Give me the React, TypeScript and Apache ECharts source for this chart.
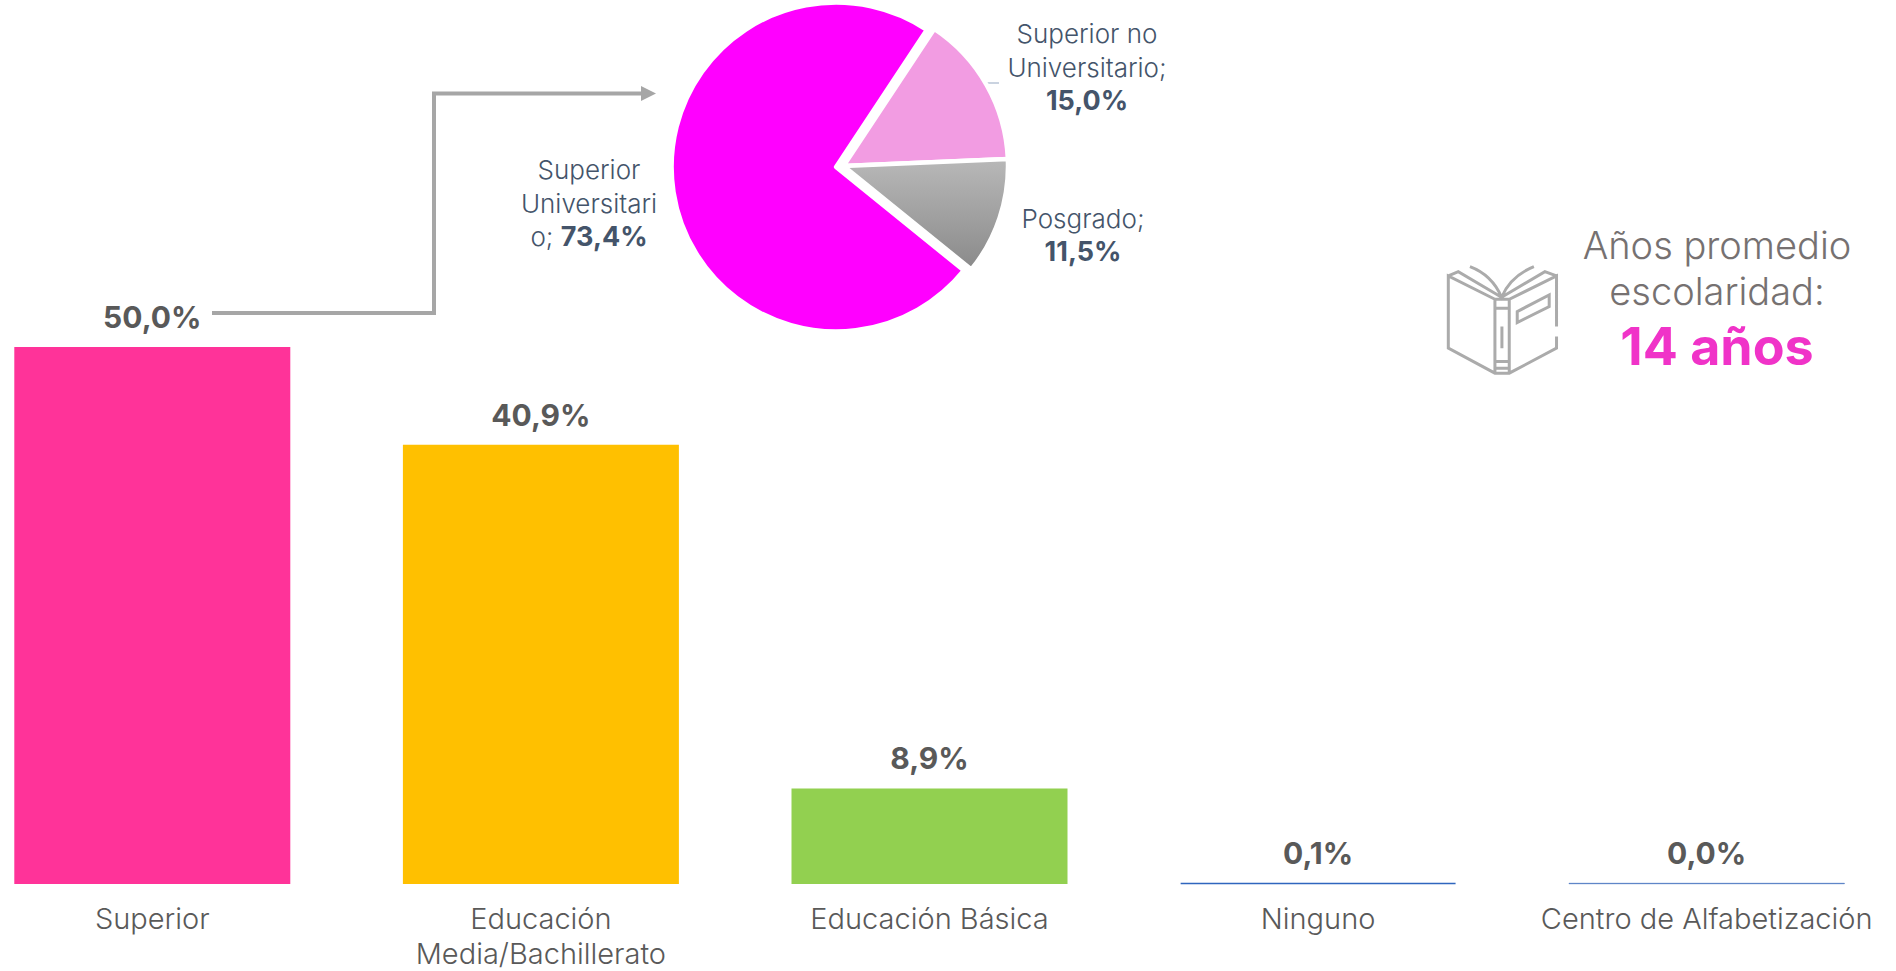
import React, { useEffect, useRef } from "react";
import * as echarts from "echarts";

const categories = ["Superior", "Educación\nMedia/Bachillerato", "Educación Básica", "Ninguno", "Centro de Alfabetización"];
const barValues = [50.0, 40.9, 8.9, 0.1, 0.0];
const barColors = ["#FF3399", "#FFC000", "#92D050", "#2F66BE", "#3A6BBB"];
const pieNames = ["Superior Universitario", "Superior no Universitario", "Posgrado"];
const pieWrappedNames = ["Superior\nUniversitari\no;", "Superior no\nUniversitario;\n", "Posgrado;\n"];
const pieValues = [73.4, 15.0, 11.5];
const pieLabelAnchors = [[589, 203], [1087, 67], [1083, 235]];
const titleLines = ["Años promedio", "escolaridad:"];
const titleValue = "14 años";

const FONT = "Inter";
const fmt = (v: number) => v.toFixed(1).replace(".", ",") + "%";

const BOOK =
  "M225 268 L85 198 L85 415 L225 490 L268 490 L410 415 L410 380 M410 350 L410 198 L268 268 L225 268 L225 490 M268 268 L268 490 " +
  "M225 295 L268 295 M225 455 L268 455 M225 475 L268 475 M246 350 L246 415 " +
  "M292 305 L388 255 L388 290 L292 338 Z " +
  "M85 198 L115 185 L245 262 M150 170 C190 185 225 215 245 262 C265 215 305 185 342 170 M245 262 L375 185 L410 198";

export default function App() {
  const ref = useRef<HTMLDivElement>(null);
  useEffect(() => {
    document.body.style.margin = "0";
    document.body.style.overflow = "hidden";
    const bookShape = echarts.graphic.extendPath(BOOK, {});
    echarts.graphic.registerShape("bookIcon", bookShape);
    const chart = echarts.init(ref.current!, undefined, { renderer: "svg" });
    const pieColors: any[] = [
      "#FF00FF",
      "#F29CE2",
      new echarts.graphic.LinearGradient(0, 0, 0, 1, [
        { offset: 0, color: "#B8B8B8" },
        { offset: 1, color: "#8A8A8A" },
      ]),
    ];
    const pieSeries = (center: number[], visible: (i: number) => boolean) => ({
      type: "pie",
      center,
      radius: 164.5,
      startAngle: 321,
      clockwise: true,
      silent: true,
      avoidLabelOverlap: false,
      data: pieNames.map((n, i) => ({
        name: n,
        value: pieValues[i],
        itemStyle: visible(i)
          ? { color: pieColors[i], borderColor: "#FFFFFF", borderWidth: 4.5 }
          : { color: "transparent", borderWidth: 0 },
        label: { show: visible(i) },
      })),
      labelLine: { show: false },
      label: {
        position: "outside",
        fontFamily: FONT,
        fontWeight: 300,
        fontSize: 26,
        lineHeight: 33.5,
        color: "#44546A",
        align: "center",
        formatter: (p: any) => {
          const w = pieWrappedNames[p.dataIndex];
          return w + (w.endsWith("\n") ? "" : " ") + "{b|" + fmt(p.value) + "}";
        },
        rich: {
          b: { fontFamily: FONT, fontSize: 27, fontWeight: "bold", color: "#44546A", lineHeight: 33.5 },
        },
      },
      labelLayout: (p: any) => ({
        x: pieLabelAnchors[p.dataIndex][0],
        y: pieLabelAnchors[p.dataIndex][1],
        align: "center",
        verticalAlign: "middle",
      }),
    });
    chart.setOption({
      animation: false,
      backgroundColor: "#FFFFFF",
      textStyle: { fontFamily: FONT },
      grid: { left: -42, top: 347, width: 1943, height: 537, containLabel: false, outerBoundsMode: "none" },
      xAxis: {
        type: "category",
        data: categories,
        axisLine: { show: false },
        axisTick: { show: false },
        axisLabel: {
          interval: 0,
          margin: 17,
          fontFamily: FONT,
          fontWeight: 300,
          fontSize: 29,
          lineHeight: 35.2,
          color: "#595959",
          verticalAlign: "top",
        },
      },
      yAxis: { type: "value", min: 0, max: 50, show: false, splitLine: { show: false } },
      series: [
        {
          type: "bar",
          barWidth: 276,
          barMinHeight: 1,
          silent: true,
          data: barValues.map((v, i) => ({
            value: v,
            itemStyle: {
              color: barColors[i],
              borderColor: i >= 3 ? barColors[i] : "transparent",
              borderWidth: i === 3 ? 1.5 : i === 4 ? 0.5 : 0,
            },
          })),
          label: {
            show: true,
            position: "top",
            distance: 15,
            fontFamily: FONT,
            fontSize: 30,
            fontWeight: "bold",
            color: "#595959",
            formatter: (p: any) => fmt(p.value),
          },
        },
        pieSeries([836.1, 167], (i) => i === 0),
        pieSeries([843.5, 166], (i) => i !== 0),
      ],
      graphic: [
        {
          type: "polyline",
          shape: { points: [[212, 313], [434, 313], [434, 93.5], [644, 93.5]] },
          style: { stroke: "#A6A6A6", lineWidth: 4, fill: "none" },
        },
        {
          type: "polygon",
          shape: { points: [[641, 86], [656, 93.5], [641, 101]] },
          style: { fill: "#A6A6A6" },
        },
        {
          type: "line",
          shape: { x1: 986, y1: 83, x2: 999, y2: 83 },
          style: { stroke: "#B8C4D6", lineWidth: 1.5 },
        },
        {
          type: "bookIcon",
          x: 1420,
          y: 210,
          scaleX: 1 / 3,
          scaleY: 1 / 3,
          style: { fill: "none", stroke: "#ABABAB", lineWidth: 9 },
        },
        {
          type: "text",
          x: 1717,
          y: 268,
          style: {
            text: titleLines.join("\n"),
            font: `300 38px ${FONT}`,
            lineHeight: 46,
            fill: "#767171",
            textAlign: "center",
            textVerticalAlign: "middle",
          },
        },
        {
          type: "text",
          x: 1717,
          y: 346,
          style: { text: titleValue, font: `bold 52px ${FONT}`, fill: "#F033C8", textAlign: "center", textVerticalAlign: "middle" },
        },
      ],
    });
    return () => chart.dispose();
  }, []);
  return <div ref={ref} style={{ position: "absolute", left: 0, top: 0, width: 1896, height: 971 }} />;
}
